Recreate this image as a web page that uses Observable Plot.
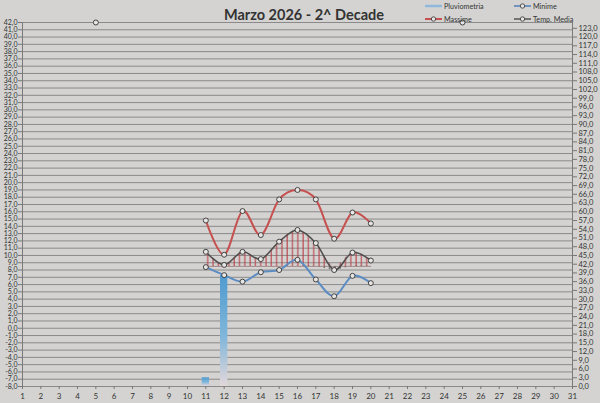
<!DOCTYPE html>
<html>
<head>
<meta charset="utf-8">
<script src="https://cdn.jsdelivr.net/npm/d3@7"></script>
<script src="https://cdn.jsdelivr.net/npm/@observablehq/plot@0.6"></script>
<style>
  html, body { margin: 0; padding: 0; background: #d4d3d1; }
  #wrap { position: relative; width: 600px; height: 403px; overflow: hidden; background: #d4d3d1; }
  #title { position: absolute; top: 6px; left: 4px; width: 600px; text-align: center;
           font: bold 14.5px Lato, "Open Sans", sans-serif; color: #333; }
  #legend { position: absolute; top: 0; left: 0; }
  #defs { position: absolute; width: 0; height: 0; }
</style>
</head>
<body>
<svg id="defs" width="0" height="0">
  <defs>
    <pattern id="hatchRosso" patternUnits="userSpaceOnUse" width="5.3" height="10">
      <line x1="1" y1="0" x2="1" y2="10" stroke="#b8333c" stroke-width="1"></line>
    </pattern>
    <pattern id="hatchScuro" patternUnits="userSpaceOnUse" width="5.3" height="10">
      <line x1="1" y1="0" x2="1" y2="10" stroke="#3a3a3a" stroke-width="1"></line>
    </pattern>
    <linearGradient id="gradPioggia" x1="0" y1="0" x2="0" y2="1">
      <stop offset="0%" stop-color="#4f9bcf"></stop>
      <stop offset="55%" stop-color="#80b6da"></stop>
      <stop offset="100%" stop-color="#e2d7db"></stop>
    </linearGradient>
  </defs>
</svg>
<div id="wrap">
  <div id="chart"></div>
  <div id="title">Marzo 2026 - 2^ Decade</div>
  <svg id="legend" width="600" height="28"></svg>
</div>
<script>
// ---- data ----
const giorni = [11, 12, 13, 14, 15, 16, 17, 18, 19, 20];
const massime = [14.8, 10.1, 16.1, 12.8, 17.7, 19.0, 17.7, 12.3, 15.9, 14.4];
const tempMedia = [10.5, 8.7, 10.5, 9.5, 11.9, 13.5, 11.7, 8.0, 10.4, 9.3];
const minime = [8.4, 7.3, 6.4, 7.7, 8.0, 9.4, 6.7, 4.4, 7.2, 6.2];
const pluviometria = [3.0, 38.2, 0, 0, 0, 0, 0, 0, 0, 0];
const riferimento = [8.5, 8.5, 8.5, 8.5, 8.5, 8.5, 8.5, 8.5, 8.5, 8.5];
const puntiExtraGiorni = [5, 25];
const puntiExtraValori = [42, 42];
const tickTemp = [-8,-7,-6,-5,-4,-3,-2,-1,0,1,2,3,4,5,6,7,8,9,10,11,12,13,14,15,16,17,18,19,20,21,22,23,24,25,26,27,28,29,30,31,32,33,34,35,36,37,38,39,40,41,42];
const tickPioggia = [0,3,6,9,12,15,18,21,24,27,30,33,36,39,42,45,48,51,54,57,60,63,66,69,72,75,78,81,84,87,90,93,96,99,102,105,108,111,114,117,120,123];
const tickGiorni = [1,2,3,4,5,6,7,8,9,10,11,12,13,14,15,16,17,18,19,20,21,22,23,24,25,26,27,28,29,30,31];
const tempMin = -8, tempMax = 42, pioggiaMax = 125;

// ---- helpers ----
const toTempScale = r => tempMin + r * (tempMax - tempMin) / pioggiaMax;
const fmt = v => d3.format(".1f")(v).replace(".", ",").replace("−", "-");

const rows = giorni.map((g, i) => ({
  g, max: massime[i], med: tempMedia[i], min: minime[i], rain: pluviometria[i], ref: riferimento[i],
  sopra: Math.max(tempMedia[i], riferimento[i]), sotto: Math.min(tempMedia[i], riferimento[i])
}));
const extra = puntiExtraGiorni.map((g, i) => ({g, v: puntiExtraValori[i]}));

const markerStroke = "#333";
const markerFill = "#e6e5e3";
const curva = "cardinal";

const chart = Plot.plot({
  width: 600,
  height: 403,
  marginLeft: 22,
  marginRight: 28,
  marginTop: 22,
  marginBottom: 17,
  style: { background: "transparent", fontFamily: "Lato, 'Open Sans', sans-serif", fontSize: "7px", color: "#333" },
  x: { domain: [1, 31] },
  y: { domain: [tempMin, tempMax] },
  marks: [
    Plot.ruleY(tickTemp, { stroke: "#8a8a8a", strokeWidth: 1 }),
    Plot.ruleX([1, 31], { stroke: "#7a7a7a", strokeWidth: 1 }),
    Plot.axisY({ anchor: "left", ticks: tickTemp, tickFormat: fmt, tickSize: 4, tickPadding: 1, label: null, fontSize: 7, stroke: "#777" }),
    Plot.axisY({ anchor: "right", ticks: tickPioggia.map(toTempScale), tickFormat: v => fmt(Math.round((v - tempMin) * pioggiaMax / (tempMax - tempMin))), tickSize: 4, tickPadding: 2, label: null, fontSize: 7.5, stroke: "#777" }),
    Plot.axisX({ ticks: tickGiorni, tickFormat: d => String(d), tickSize: 3, tickPadding: 4, label: null, fontSize: 8, stroke: "#777" }),
    // Pluviometria bars
    Plot.rect(rows.filter(d => d.rain > 0), {
      x1: d => d.g - 0.2, x2: d => d.g + 0.2,
      y1: tempMin, y2: d => toTempScale(d.rain),
      fill: "url(#gradPioggia)"
    }),
    // hatched areas between temp media and reference
    Plot.areaY(rows, { x: "g", y1: "ref", y2: "sopra", curve: curva, fill: "url(#hatchRosso)" }),
    Plot.areaY(rows, { x: "g", y1: "ref", y2: "sotto", curve: curva, fill: "url(#hatchScuro)" }),
    Plot.line(rows, { x: "g", y: "ref", stroke: "#8d6a6a", strokeWidth: 0.7 }),
    // lines
    Plot.line(rows, { x: "g", y: "med", curve: curva, stroke: "#4d4d4d", strokeWidth: 1.5 }),
    Plot.line(rows, { x: "g", y: "min", curve: curva, stroke: "#5b8cc2", strokeWidth: 2 }),
    Plot.line(rows, { x: "g", y: "max", curve: curva, stroke: "#c5504f", strokeWidth: 2 }),
    // markers
    Plot.dot(rows, { x: "g", y: "med", r: 2.5, fill: markerFill, stroke: markerStroke, strokeWidth: 0.9 }),
    Plot.dot(rows, { x: "g", y: "min", r: 2.5, fill: markerFill, stroke: markerStroke, strokeWidth: 0.9 }),
    Plot.dot(rows, { x: "g", y: "max", r: 2.5, fill: markerFill, stroke: markerStroke, strokeWidth: 0.9 }),
    Plot.dot(extra, { x: "g", y: "v", r: 2.5, fill: markerFill, stroke: markerStroke, strokeWidth: 0.9 })
  ]
});

document.getElementById("chart").appendChild(chart);

// legend
const legendItems = [
  { label: "Pluviometria", color: "#8fb8dc", x: 425, y: 6, marker: false, w: 2.5 },
  { label: "Minime", color: "#4f7fb8", x: 514, y: 6, marker: true, w: 1.5 },
  { label: "Massime", color: "#c5504f", x: 425, y: 19, marker: true, w: 2 },
  { label: "Temp. Media", color: "#555", x: 514, y: 19, marker: true, w: 1.5 }
];
const lg = d3.select("#legend");
for (const it of legendItems) {
  lg.append("line").attr("x1", it.x).attr("x2", it.x + 17).attr("y1", it.y).attr("y2", it.y)
    .attr("stroke", it.color).attr("stroke-width", it.w);
  if (it.marker) lg.append("circle").attr("cx", it.x + 8.5).attr("cy", it.y).attr("r", 2.2)
    .attr("fill", markerFill).attr("stroke", "#333").attr("stroke-width", 0.8);
  lg.append("text").attr("x", it.x + 19).attr("y", it.y).attr("dy", "0.35em")
    .attr("font-family", "Lato, 'Open Sans', sans-serif").attr("font-size", 7.2).attr("fill", "#333").text(it.label);
}
</script>
</body>
</html>
